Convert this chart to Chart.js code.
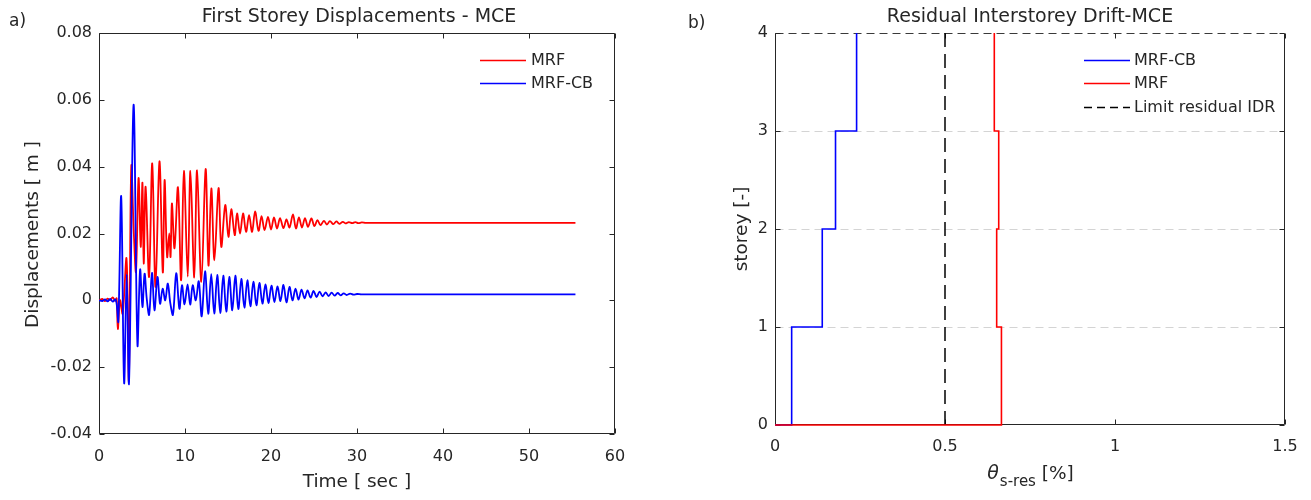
<!DOCTYPE html>
<html><head><meta charset="utf-8">
<script src="https://cdn.jsdelivr.net/npm/chart.js@4/dist/chart.umd.min.js"></script>
<style>
html,body{margin:0;padding:0;background:#fff;width:1311px;height:500px;overflow:hidden}
canvas{position:absolute;top:0}
#a{left:0}
#b{left:650px}
</style></head><body>
<canvas id="a" width="650" height="500"></canvas>
<canvas id="b" width="661" height="500"></canvas>
<script>
// ---------- data ----------
// Panel a) first storey displacement time histories [t (s), displacement (m)]
const mrfSeries = [[0,0],[0.4,0.0004],[0.7,-0.0002],[1.0,0.0005],[1.3,0.0001],[1.6,0.0009],[1.9,-0.0002],[2.05,0.0006],[2.19,-0.0086],[2.45,0.0],[2.75,-0.004],[3.2,0.0125],[3.47,-0.024],[3.75,0.040],[4.05,0.020],[4.3,0.0086],[4.6,0.0366],[4.85,0.016],[5.05,0.0352],[5.2,0.011],[5.42,0.034],[5.82,0.007],[6.19,0.041],[6.57,0.004],[7.03,0.0416],[7.42,0.0083],[7.63,0.036],[7.92,0.013],[8.17,0.020],[8.32,0.013],[8.48,0.029],[8.78,0.0156],[9.18,0.0338],[9.55,0.006],[9.87,0.0387],[10.32,0.0071],[10.63,0.0387],[11.08,0.0068],[11.4,0.0389],[11.9,0.0055],[12.4,0.0393],[12.73,0.0104],[13.06,0.0335],[13.42,0.012],[13.9,0.0336],[14.22,0.016],[14.68,0.0285],[15.05,0.019],[15.38,0.0273],[15.78,0.0195],[16.05,0.026],[16.4,0.020],[16.75,0.026],[17.1,0.0205],[17.45,0.0255],[17.8,0.0205],[18.15,0.0266],[18.55,0.0208],[18.9,0.0252],[19.25,0.021],[19.65,0.025],[20.0,0.0212],[20.35,0.0248],[20.7,0.0215],[21.05,0.0246],[21.45,0.0216],[21.8,0.0242],[22.15,0.0218],[22.55,0.0257],[22.9,0.0215],[23.25,0.0248],[23.6,0.0218],[23.95,0.0246],[24.3,0.022],[24.7,0.0245],[25.05,0.0222],[25.4,0.024],[25.75,0.0225],[26.15,0.0238],[26.5,0.0227],[26.85,0.0237],[27.25,0.0228],[27.6,0.0236],[27.95,0.0229],[28.35,0.0235],[28.7,0.023],[29.05,0.0234],[29.45,0.0231],[29.8,0.0234],[30.15,0.0231],[30.55,0.0233],[31.0,0.0232],[55.4,0.0232]];
const cbSeries = [[0,0],[0.4,-0.0002],[0.7,0.0003],[1.0,-0.0003],[1.3,0.0004],[1.6,-0.0004],[1.9,0.0003],[2.05,-0.001],[2.25,-0.0063],[2.58,0.0311],[2.92,-0.0247],[3.22,0.0078],[3.49,-0.0247],[4.02,0.0585],[4.47,-0.0133],[4.78,0.0092],[5.05,-0.002],[5.3,0.008],[5.55,0.0005],[5.83,-0.0043],[6.16,0.0082],[6.45,-0.003],[6.8,0.007],[7.1,-0.001],[7.4,0.0035],[7.7,0.0],[8.0,0.005],[8.3,-0.001],[8.6,-0.0043],[8.98,0.0081],[9.35,-0.0025],[9.65,0.0045],[9.95,-0.0012],[10.3,0.0048],[10.6,-0.0013],[10.9,0.0045],[11.25,0.0],[11.6,0.0057],[11.94,-0.0048],[12.33,0.0087],[12.7,-0.004],[13.05,0.0078],[13.4,-0.004],[13.75,0.0076],[14.1,-0.0038],[14.45,0.0074],[14.8,-0.0034],[15.15,0.007],[15.5,-0.003],[15.85,0.0074],[16.2,-0.0026],[16.55,0.0064],[16.9,-0.0022],[17.25,0.006],[17.6,-0.0018],[17.95,0.0056],[18.3,-0.0015],[18.65,0.0052],[19.0,-0.001],[19.35,0.0048],[19.7,-0.0008],[20.05,0.0044],[20.4,-0.0005],[20.75,0.0042],[21.1,-0.0002],[21.45,0.0046],[21.8,-0.0006],[22.15,0.004],[22.5,0.0],[22.85,0.0035],[23.2,0.0002],[23.55,0.0032],[23.9,0.0006],[24.25,0.003],[24.6,0.0008],[24.95,0.0028],[25.3,0.001],[25.65,0.0026],[26.0,0.0012],[26.35,0.0024],[26.7,0.0013],[27.05,0.0023],[27.4,0.0014],[27.75,0.0022],[28.1,0.0015],[28.45,0.0021],[28.8,0.0016],[29.2,0.002],[29.6,0.0017],[30.0,0.0019],[30.5,0.0018],[55.4,0.0018]];
const timeTicks = [0,10,20,30,40,50,60];
const timeTickLabels = ['0','10','20','30','40','50','60'];
const dispTicks = [-0.04,-0.02,0,0.02,0.04,0.06,0.08];
const dispTickLabels = ['-0.04','-0.02','0','0.02','0.04','0.06','0.08'];

// Panel b) residual interstorey drift per storey [%]
const storeys = [0,1,2,3,4];
const driftStart = 0;
const driftCB  = [0.049,0.139,0.178,0.240];
const driftMRF = [0.666,0.652,0.658,0.645];
const limitIDR = 0.5;
const driftTicks = [0,0.5,1,1.5];
const driftTickLabels = ['0','0.5','1','1.5'];
const storeyTickLabels = ['0','1','2','3','4'];

// ---------- styling ----------
const F = '"DejaVu Sans", sans-serif';
const TXT = '#262626';
const RED = '#ff0000', BLUE = '#0000ff';

function stairs(vals){
  const pts = [{x: driftStart, y: storeys[0]}];
  vals.forEach((d,i)=>pts.push({x:d, y:storeys[i+1]}));
  return pts;
}

function framePlugin(o){
  return {
    id:'frame'+o.key,
    beforeDatasetsDraw(chart){
      const {ctx, chartArea:a, scales} = chart;
      const L=Math.round(a.left)+0.5, R=Math.round(a.right)-0.5, T=Math.round(a.top)+0.5, B=Math.round(a.bottom)-0.5;
      ctx.save();
      if (o.grid){
        ctx.strokeStyle='#d4d4d4'; ctx.lineWidth=1; ctx.setLineDash([8,5]);
        ctx.beginPath();
        scales.y.ticks.forEach(t=>{
          if (t.value>scales.y.min && t.value<scales.y.max){
            const y=Math.round(scales.y.getPixelForValue(t.value))+0.5;
            ctx.moveTo(L,y); ctx.lineTo(R,y);
          }
        });
        ctx.stroke(); ctx.setLineDash([]);
      }
      ctx.strokeStyle=TXT; ctx.lineWidth=1;
      ctx.beginPath();
      ctx.moveTo(R,T); ctx.lineTo(R,B); ctx.lineTo(L,B); ctx.lineTo(L,T);
      if(!o.topDashed) ctx.lineTo(R,T);
      ctx.stroke();
      if(o.topDashed){
        ctx.strokeStyle='#3a3a3a'; ctx.setLineDash([8,5]);
        ctx.beginPath(); ctx.moveTo(L,T); ctx.lineTo(R,T); ctx.stroke(); ctx.setLineDash([]);
        ctx.strokeStyle=TXT;
      }
      const tl=5;
      ctx.beginPath();
      scales.x.ticks.forEach(t=>{
        const x=Math.round(scales.x.getPixelForValue(t.value))+0.5;
        ctx.moveTo(x,B); ctx.lineTo(x,B-tl); ctx.moveTo(x,T); ctx.lineTo(x,T+tl);
      });
      scales.y.ticks.forEach(t=>{
        const y=Math.round(scales.y.getPixelForValue(t.value))+0.5;
        ctx.moveTo(L,y); ctx.lineTo(L+tl,y); ctx.moveTo(R,y); ctx.lineTo(R-tl,y);
      });
      ctx.stroke();
      ctx.restore();
    },
    afterDraw(chart){ o.text(chart); }
  };
}

function legend(ctx, x1, x2, tx, rows){
  ctx.save();
  ctx.font = '16px '+F; ctx.textBaseline='middle'; ctx.textAlign='left'; ctx.fillStyle=TXT;
  rows.forEach(r=>{
    ctx.strokeStyle=r.color; ctx.lineWidth=r.w||1.5; ctx.setLineDash(r.dash||[]);
    ctx.beginPath(); ctx.moveTo(x1,r.y+0.5); ctx.lineTo(x2,r.y+0.5); ctx.stroke();
    ctx.fillText(r.label, tx, r.y+1);
  });
  ctx.restore();
}

function baseScales(xmin,xmax,xt,xl,ymin,ymax,yt,yl,yw,xh,xpad,ypad){
  return {
    x:{type:'linear',min:xmin,max:xmax,
       afterBuildTicks:s=>{s.ticks=xt.map(v=>({value:v}));},
       afterFit:s=>{s.height=xh;},
       grid:{display:false,drawTicks:false}, border:{display:false},
       ticks:{autoSkip:false,maxRotation:0,padding:xpad,color:TXT,font:{family:F,size:16},callback:(v,i)=>xl[i]}},
    y:{type:'linear',min:ymin,max:ymax,
       afterBuildTicks:s=>{s.ticks=yt.map(v=>({value:v}));},
       afterFit:s=>{s.width=yw;},
       grid:{display:false,drawTicks:false}, border:{display:false},
       ticks:{autoSkip:false,padding:ypad,color:TXT,font:{family:F,size:16},callback:(v,i)=>yl[i]}}
  };
}

// ---------- chart a ----------
new Chart(document.getElementById('a'),{
  type:'line',
  data:{datasets:[
    {label:'MRF-CB',data:cbSeries.map(p=>({x:p[0],y:p[1]})),borderColor:BLUE,borderWidth:1.8,pointRadius:0,tension:0.35,order:0},
    {label:'MRF',data:mrfSeries.map(p=>({x:p[0],y:p[1]})),borderColor:RED,borderWidth:1.8,pointRadius:0,tension:0.35,order:1}
  ]},
  options:{
    responsive:false,animation:false,devicePixelRatio:1,
    layout:{padding:{top:33,right:35,left:0,bottom:0}},
    plugins:{legend:{display:false},tooltip:{enabled:false},title:{display:false}},
    scales:baseScales(0,60,timeTicks,timeTickLabels,-0.04,0.08,dispTicks,dispTickLabels,99,66,13,7)
  },
  plugins:[framePlugin({key:'a',grid:false,topDashed:false,text(chart){
    const {ctx,chartArea:a}=chart;
    ctx.save(); ctx.fillStyle=TXT; ctx.textBaseline='middle';
    ctx.font='19px '+F; ctx.textAlign='center';
    ctx.fillText('First Storey Displacements - MCE',(a.left+a.right)/2+2,17);
    ctx.font='18.5px '+F;
    ctx.fillText('Time [ sec ]',(a.left+a.right)/2,482);
    ctx.save(); ctx.translate(33,(a.top+a.bottom)/2+1); ctx.rotate(-Math.PI/2);
    ctx.fillText('Displacements [ m ]',0,0); ctx.restore();
    ctx.font='17px '+F; ctx.textAlign='left';
    ctx.fillText('a)',9,22);
    ctx.restore();
    legend(ctx,480,526,531,[{color:RED,label:'MRF',y:60},{color:BLUE,label:'MRF-CB',y:83}]);
  }})]
});

// ---------- chart b ----------
new Chart(document.getElementById('b'),{
  type:'line',
  data:{datasets:[
    {label:'Limit residual IDR',data:[{x:limitIDR,y:storeys[0]},{x:limitIDR,y:storeys[storeys.length-1]}],borderColor:'#000',borderWidth:1.5,borderDash:[14,7],pointRadius:0,order:2},
    {label:'MRF-CB',data:stairs(driftCB),borderColor:BLUE,borderWidth:1.6,stepped:'before',pointRadius:0,order:1,clip:3},
    {label:'MRF',data:stairs(driftMRF),borderColor:RED,borderWidth:1.6,stepped:'before',pointRadius:0,order:0,clip:3}
  ]},
  options:{
    responsive:false,animation:false,devicePixelRatio:1,
    layout:{padding:{top:33,right:26,left:0,bottom:0}},
    plugins:{legend:{display:false},tooltip:{enabled:false},title:{display:false}},
    scales:baseScales(0,1.5,driftTicks,driftTickLabels,0,4,storeys,storeyTickLabels,125,75,12,7)
  },
  plugins:[framePlugin({key:'b',grid:true,topDashed:true,text(chart){
    const {ctx,chartArea:a}=chart;
    const cx=(a.left+a.right)/2;
    ctx.save(); ctx.fillStyle=TXT; ctx.textBaseline='middle';
    ctx.font='19px '+F; ctx.textAlign='center';
    ctx.fillText('Residual Interstorey Drift-MCE',cx,17);
    ctx.font='18.5px '+F;
    ctx.save(); ctx.translate(92,(a.top+a.bottom)/2); ctx.rotate(-Math.PI/2);
    ctx.fillText('storey [-]',0,0); ctx.restore();
    // x label: theta with subscript
    ctx.textAlign='left'; ctx.textBaseline='alphabetic';
    const p1='θ', p2='s-res', p3=' [%]';
    ctx.font='italic 19px '+F; const w1=ctx.measureText(p1).width;
    ctx.font='15px '+F; const w2=ctx.measureText(p2).width;
    ctx.font='18.5px '+F; const w3=ctx.measureText(p3).width;
    let x=cx-(w1+w2+w3)/2; const base=479;
    ctx.font='italic 19px '+F; ctx.fillText(p1,x,base); x+=w1+1;
    ctx.font='15px '+F; ctx.fillText(p2,x,base+7); x+=w2;
    ctx.font='18.5px '+F; ctx.fillText(p3,x,base);
    ctx.font='17px '+F;
    ctx.fillText('b)',38,28);
    ctx.restore();
    legend(ctx,434,480,484,[{color:BLUE,label:'MRF-CB',y:60},{color:RED,label:'MRF',y:83},{color:'#000',label:'Limit residual IDR',y:107,dash:[8,5]}]);
  }})]
});
</script>
</body></html>
